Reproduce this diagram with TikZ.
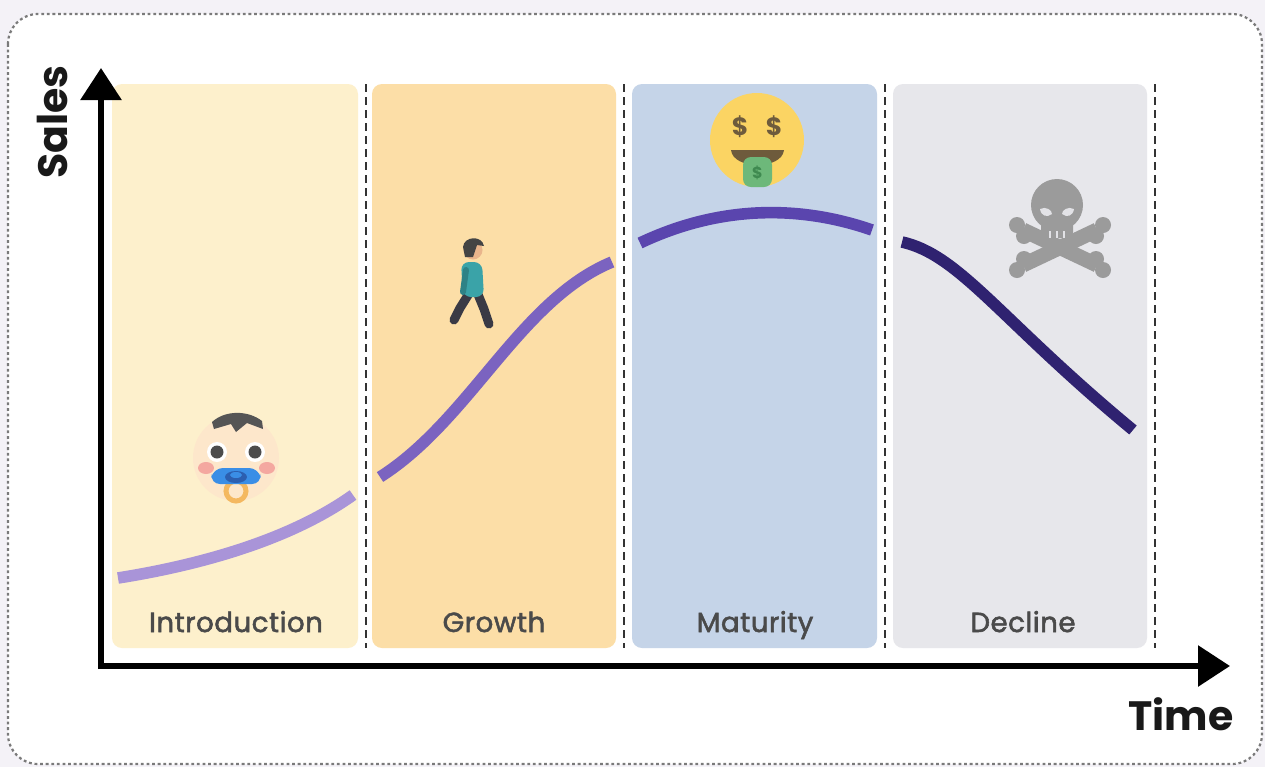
\documentclass[tikz,border=0pt]{standalone}
\usepackage{fontspec}
\setmainfont{Poppins}
\newfontfamily\panelfont{Poppins}[FakeBold=2, LetterSpace=2]
\usetikzlibrary{arrows.meta}

\definecolor{pagebg}{HTML}{F4F2F7}
\definecolor{framecol}{HTML}{7A7A7A}
\definecolor{introcol}{HTML}{FDF0CC}
\definecolor{growthcol}{HTML}{FCDEA7}
\definecolor{maturitycol}{HTML}{C5D4E8}
\definecolor{declinecol}{HTML}{E7E7EB}
\definecolor{curveA}{HTML}{A994D8}
\definecolor{curveB}{HTML}{7B63C0}
\definecolor{curveC}{HTML}{5A45AE}
\definecolor{curveD}{HTML}{2F2270}
\definecolor{labeltext}{HTML}{4A4A4A}
\definecolor{skin}{HTML}{FDE7CB}
\definecolor{skinB}{HTML}{E9B58C}
\definecolor{hair}{HTML}{555555}
\definecolor{cheek}{HTML}{F4A8A0}
\definecolor{pacblue}{HTML}{3A8EE6}
\definecolor{pacdark}{HTML}{2C5FB0}
\definecolor{pacring}{HTML}{F4B860}
\definecolor{teal}{HTML}{3AA3A8}
\definecolor{trousers}{HTML}{3A3A45}
\definecolor{faceyellow}{HTML}{FBD463}
\definecolor{facebrown}{HTML}{6E5B3C}
\definecolor{cash}{HTML}{6DB87A}
\definecolor{cashdark}{HTML}{3F8A50}
\definecolor{bonegray}{HTML}{9B9B9B}
\definecolor{bonelight}{HTML}{E2E2E6}

\tikzset{
  panel/.style={rounded corners=5pt, inner sep=0pt, draw=none},
  stagelabel/.style={font=\panelfont\fontsize{13.8}{15}\selectfont, text=labeltext, anchor=base},
  divider/.style={draw=black!80, line width=1pt, dash pattern=on 4pt off 2.5pt},
  axis/.style={line width=3pt, -{Triangle[width=20pt,length=16pt]}},
  salescurve/.style={line width=5.8pt},
  axislabel/.style={font=\bfseries\fontsize{20.5}{22}\selectfont, text=black!90}
}

\begin{document}
\begin{tikzpicture}[x=0.5pt,y=-0.5pt]
  % page and frame
  \fill[pagebg] (0,0) rectangle (1265,767);
  \useasboundingbox (0,0) rectangle (1265,767);
  \draw[fill=white, draw=framecol, line width=1.1pt, dash pattern=on 1.4pt off 1.4pt, rounded corners=15pt]
    (8,14) rectangle (1262,764);

  % stage panels
  \node[panel, fill=introcol, minimum width=123pt, minimum height=282pt] (intro) at (235,366) {};
  \node[panel, fill=growthcol, minimum width=122pt, minimum height=282pt] (growth) at (494,366) {};
  \node[panel, fill=maturitycol, minimum width=122.5pt, minimum height=282pt] (maturity) at (754.5,366) {};
  \node[panel, fill=declinecol, minimum width=127pt, minimum height=282pt] (decline) at (1020,366) {};

  % dashed separators
  \coordinate (d1t) at (366,84);  \coordinate (d1b) at (366,648);
  \coordinate (d2t) at (624,84);  \coordinate (d2b) at (624,648);
  \coordinate (d3t) at (885,84);  \coordinate (d3b) at (885,648);
  \coordinate (d4t) at (1155,84); \coordinate (d4b) at (1155,648);
  \draw[divider] (d1t) -- (d1b);
  \draw[divider] (d2t) -- (d2b);
  \draw[divider] (d3t) -- (d3b);
  \draw[divider] (d4t) -- (d4b);

  % stage names
  \node[stagelabel] (introlbl) at (236,632) {Introduction};
  \node[stagelabel] (growthlbl) at (494,632) {Growth};
  \node[stagelabel] (maturitylbl) at (755,632) {Maturity};
  \node[stagelabel] (declinelbl) at (1023,632) {Decline};

  % axes
  \coordinate (origin) at (101,666);
  \coordinate (ytip) at (101,68);
  \coordinate (xtip) at (1230,666);
  \draw[axis] ([yshift=-1.5pt]origin) -- (ytip);
  \draw[axis] ([xshift=-1.5pt]origin) -- (xtip);
  \node[axislabel, rotate=90] (saleslbl) at (52,122) {Sales};
  \node[axislabel] (timelbl) at (1181,714) {Time};

  % sales curve, one piece per stage
  \draw[salescurve, curveA] (118,578) .. controls (200,565) and (290,540) .. (353,495);
  \draw[salescurve, curveB] (380,477) .. controls (470,420) and (520,300) .. (612,262);
  \draw[salescurve, curveC] (640,243) .. controls (720,205) and (800,205) .. (872,230);
  \draw[salescurve, curveD] (902,242) .. controls (960,255) and (1000,320) .. (1133,430);

  % baby face
  \fill[skin] (236,458) circle (43);
  \fill[hair] (212,422) .. controls (225,410) and (248,410) .. (262,421)
    -- (263,429) -- (247,423) -- (236,432) -- (231,424) -- (214,429) -- cycle;
  \fill[white] (217,452) circle (10) (255,452) circle (10);
  \fill[hair!90!black] (217,452) circle (6.5) (255,452) circle (6.5);
  \fill[cheek] (206,468) ellipse (8 and 6) (267,468) ellipse (8 and 6);
  \draw[pacring, line width=2.5pt] (236,491) circle (10);
  \fill[pacblue, rounded corners=5pt] (213,468) -- (259,468) -- (262,484) -- (210,484) -- cycle;
  \fill[pacdark] (236,477) ellipse (11 and 6);
  \fill[pacblue] (236,475) ellipse (6 and 3);

  % walking child
  \draw[trousers, line width=4.5pt, line cap=round, line join=round] (470,292) -- (460,308) -- (454,320);
  \draw[trousers, line width=4.5pt, line cap=round, line join=round] (477,292) -- (484,309) -- (489,324);
  \fill[teal, rounded corners=4pt] (461,262) -- (482,262) -- (484,297) -- (463,297) -- cycle;
  \draw[teal!80!black, line width=3pt, line cap=round] (466,270) -- (463,292);
  \fill[skinB] (473,250) circle (9.5);
  \fill[hair!80!black] (463,247) .. controls (464,236) and (482,235) .. (484,246)
    -- (477,245) -- (473,257) -- (465,257) -- cycle;

  % money face
  \fill[faceyellow] (757,140) circle (47);
  \node[font=\bfseries\fontsize{12.5}{12}\selectfont, text=facebrown] (dollarL) at (740,127) {\$};
  \node[font=\bfseries\fontsize{12.5}{12}\selectfont, text=facebrown] (dollarR) at (774,127) {\$};
  \fill[facebrown] (731,150) -- (784,150) .. controls (782,170) and (733,170) .. cycle;
  \fill[cash, rounded corners=4pt] (743,157) -- (772,157) -- (772,187) -- (743,187) -- cycle;
  \node[font=\bfseries\fontsize{8}{8}\selectfont, text=cashdark] (dollarT) at (757.5,173) {\$};

  % skull and crossbones
  \draw[bonegray, line width=7.5pt] (1023,230) -- (1097,265);
  \draw[bonegray, line width=7.5pt] (1097,230) -- (1023,265);
  \fill[bonegray] (1017,225) circle (8) (1024,236) circle (8)
                  (1103,225) circle (8) (1096,236) circle (8)
                  (1017,270) circle (8) (1024,259) circle (8)
                  (1103,270) circle (8) (1096,259) circle (8);
  \fill[bonegray] (1057,205) circle (26);
  \fill[bonegray, rounded corners=3pt] (1041,215) rectangle (1073,238);
  \fill[bonelight] (1040,209) .. controls (1046,206) and (1052,210) .. (1052,214)
    .. controls (1047,218) and (1041,216) .. cycle;
  \fill[bonelight] (1074,209) .. controls (1068,206) and (1062,210) .. (1062,214)
    .. controls (1067,218) and (1073,216) .. cycle;
  \draw[bonelight, line width=0.8pt] (1050,231) -- (1050,238) (1057,231) -- (1057,238) (1064,231) -- (1064,238);
\end{tikzpicture}
\end{document}
